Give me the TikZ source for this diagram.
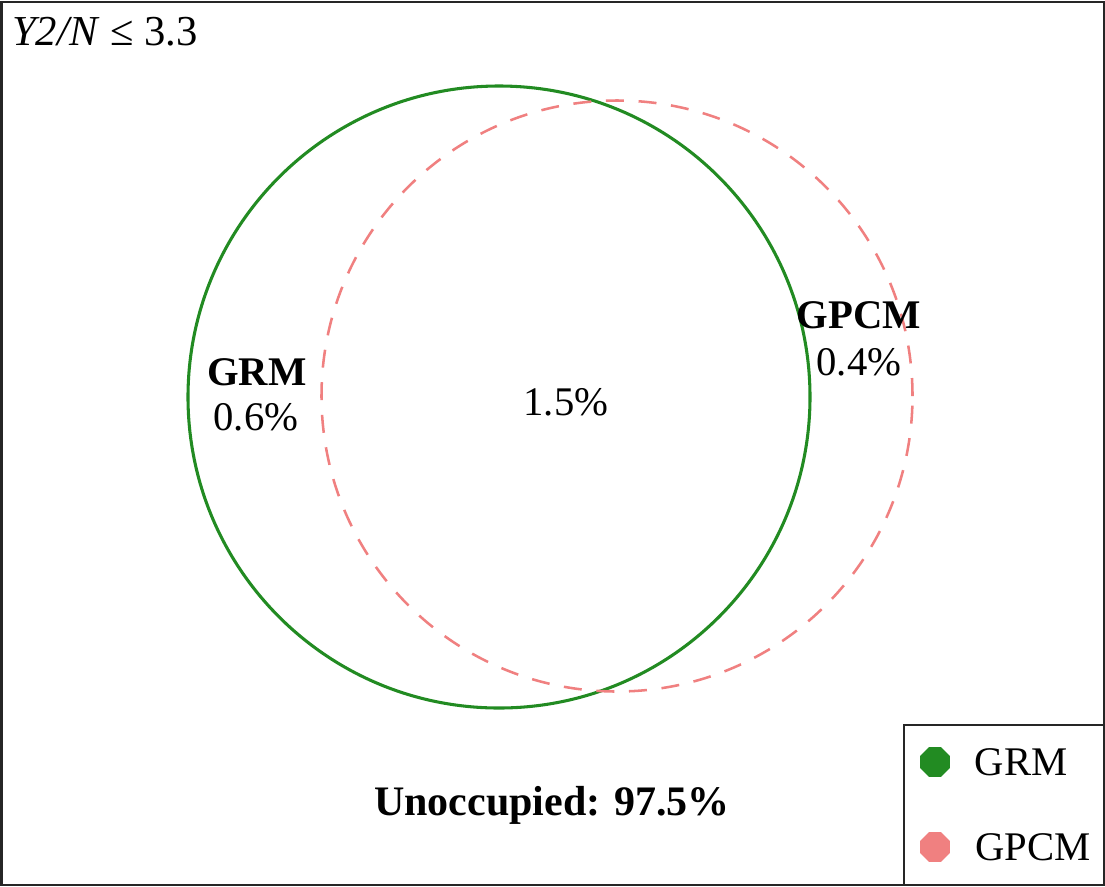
\documentclass[tikz,border=0pt]{standalone}
\usepackage{fontspec}
\setmainfont{Liberation Serif}
\usetikzlibrary{shapes.geometric}
\definecolor{grmgreen}{RGB}{34,139,34}
\definecolor{gpcmpink}{RGB}{240,128,128}
\tikzset{
  lbl/.style={inner sep=0pt, anchor=base, font=\fontsize{30.5}{36}\selectfont},
  blbl/.style={lbl, font=\fontsize{30.5}{36}\selectfont\bfseries},
  frame/.style={draw=black!85, line width=1.5pt},
  grmcirc/.style={draw=grmgreen, line width=2.3pt},
  gpcmcirc/.style={draw=gpcmpink, line width=1.9pt, dash pattern=on 13.5pt off 11pt},
  octo/.style={regular polygon, regular polygon sides=8, inner sep=0pt, minimum size=24pt}
}
\begin{document}
\begin{tikzpicture}[x=0.75pt,y=-0.75pt]
\useasboundingbox (0,0) rectangle (1105,886);
\fill[white] (0,0) rectangle (1105,886);
\draw[frame] (1.5,1.5) rectangle (1103.5,884.5);
% title
\node[lbl, anchor=base west, font=\fontsize{32}{38}\selectfont] (title) at (12,45) {\textit{Y2/N} ≤ 3.3};
% circles
\node[circle, grmcirc, minimum size=622*0.75pt, inner sep=0pt] (grm) at (499,397) {};
\node[circle, gpcmcirc, minimum size=591*0.75pt, inner sep=0pt] (gpcm) at (617,396) {};
% region labels
\node[blbl] (grmname) at (257,385) {GRM};
\node[lbl] (grmval) at (256,430) {0.6\%};
\node[blbl] (gpcmname) at (859,328) {GPCM};
\node[lbl] (gpcmval) at (859,375) {0.4\%};
\node[lbl] (both) at (566,415) {1.5\%};
\node[blbl, font=\fontsize{31.5}{38}\selectfont\bfseries] (unocc) at (552,815) {Unoccupied: 97.5\%};
% legend
\draw[frame] (904,725) rectangle (1103.5,884.5);
\node[octo, fill=grmgreen] (leg1) at (935,762) {};
\node[lbl] (leg1t) at (1021,775) {GRM};
\node[octo, fill=gpcmpink] (leg2) at (935,847) {};
\node[lbl] (leg2t) at (1033,860) {GPCM};
\end{tikzpicture}
\end{document}
